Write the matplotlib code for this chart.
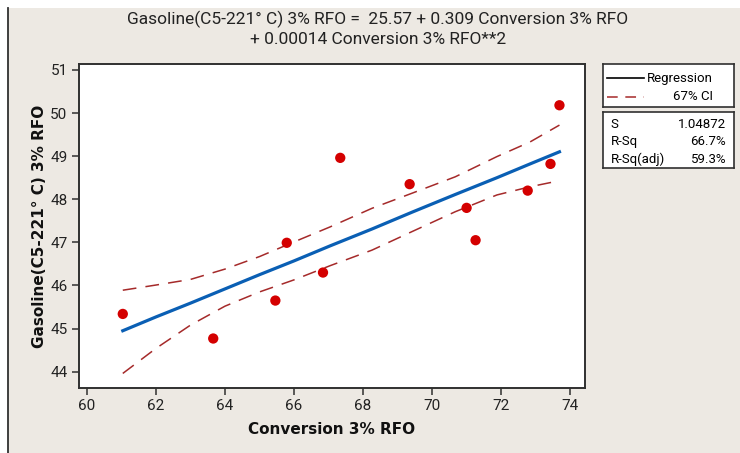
import numpy as np
import matplotlib
matplotlib.use("Agg")
import matplotlib.pyplot as plt
from matplotlib.patches import Rectangle
from matplotlib.lines import Line2D

conversion = [61.04, 63.66, 65.46, 65.79, 66.84, 67.34, 69.35, 71.00, 71.26, 72.77, 73.43, 73.69]
gasoline = [45.34, 44.77, 45.65, 46.99, 46.30, 48.96, 48.35, 47.80, 47.05, 48.20, 48.82, 50.18]

# fitted curve and 67% CI band, sampled along x
fit_x = [61.04, 62.0, 63.0, 64.0, 65.0, 66.0, 67.05, 68.26, 69.42, 70.67, 71.88, 72.84, 73.69]
fit_y = [44.95, 45.27, 45.59, 45.92, 46.25, 46.57, 46.92, 47.31, 47.70, 48.11, 48.50, 48.82, 49.10]
ci_upper = [45.89, 46.01, 46.14, 46.38, 46.67, 47.01, 47.36, 47.79, 48.14, 48.52, 48.99, 49.33, 49.72]
ci_lower = [43.96, 44.54, 45.08, 45.52, 45.85, 46.13, 46.46, 46.82, 47.25, 47.71, 48.10, 48.29, 48.43]

x_ticks = [60, 62, 64, 66, 68, 70, 72, 74]
y_ticks = [44, 45, 46, 47, 48, 49, 50, 51]

stats_names = ["S", "R-Sq", "R-Sq(adj)"]
stats_vals = ["1.04872", "66.7%", "59.3%"]

title = ("Gasoline(C5-221\u00b0 C) 3% RFO =  25.57 + 0.309 Conversion 3% RFO\n"
         "+ 0.00014 Conversion 3% RFO**2")

narrow = ["Roboto", "DejaVu Sans"]

bg = "#ede9e3"
red = "#d40000"
blue = "#0a5fb4"
dark_red = "#a52a2a"
frame = "#303030"

fig = plt.figure(figsize=(7.4, 4.53), dpi=100)
fig.patch.set_facecolor("white")
fig.patches.append(Rectangle((8 / 740, 0), 1, 1 - 8 / 453, transform=fig.transFigure,
                             facecolor=bg, edgecolor="none", zorder=-10))
fig.lines.append(Line2D([7.5 / 740, 7.5 / 740], [0, 1 - 8 / 453], transform=fig.transFigure,
                        color=frame, lw=1.3))

ax = fig.add_axes([78.6 / 740, 1 - 388.3 / 453, (585 - 78.6) / 740, (388.3 - 64.3) / 453])
ax.set_facecolor("white")

ax.plot(fit_x, fit_y, color=blue, lw=2.3, zorder=3)
ax.plot(fit_x, ci_upper, color=dark_red, lw=1.1, dashes=(9, 6), zorder=2)
ax.plot(fit_x, ci_lower, color=dark_red, lw=1.1, dashes=(9, 6), zorder=2)
ax.scatter(conversion, gasoline, s=55, color=red, edgecolors="none", zorder=4)

ax.set_xlim(59.76, 74.43)
ax.set_ylim(43.615, 51.13)
ax.set_xticks(x_ticks)
ax.set_yticks(y_ticks)
ax.tick_params(direction="out", length=5, width=1.1, color=frame, labelsize=11,
               labelcolor="#222222", pad=3)
for lab in ax.get_xticklabels() + ax.get_yticklabels():
    lab.set_family(narrow)
for sp in ax.spines.values():
    sp.set_color(frame)
    sp.set_linewidth(1.4)

ax.set_xlabel("Conversion 3% RFO", fontsize=11, fontweight="bold", color="#111111", labelpad=6)
ax.set_ylabel("Gasoline(C5-221\u00b0 C) 3% RFO", fontsize=11, fontweight="bold",
              color="#111111", labelpad=2)

fig.text(378 / 740, 1 - 29 / 453, title, ha="center", va="center", fontsize=12.5,
         family=narrow, color="#222222", linespacing=1.3)

# legend box
lg = fig.add_axes([603 / 740, 1 - 107 / 453, 131 / 740, 43 / 453])
lg.set_xlim(0, 1)
lg.set_ylim(0, 1)
lg.set_xticks([])
lg.set_yticks([])
lg.set_facecolor("white")
for sp in lg.spines.values():
    sp.set_color(frame)
    sp.set_linewidth(1.2)
lg.plot([0.03, 0.31], [0.67, 0.67], color="black", lw=1.2)
lg.plot([0.03, 0.31], [0.24, 0.24], color=dark_red, lw=1.1, dashes=(7, 5))
lg.text(0.84, 0.67, "Regression", ha="right", va="center", fontsize=9.5, family=narrow)
lg.text(0.84, 0.24, "67% CI", ha="right", va="center", fontsize=9.5, family=narrow)

# summary stats box
sb = fig.add_axes([603 / 740, 1 - 168 / 453, 131 / 740, 56 / 453])
sb.set_xlim(0, 1)
sb.set_ylim(0, 1)
sb.set_xticks([])
sb.set_yticks([])
sb.set_facecolor("white")
for sp in sb.spines.values():
    sp.set_color(frame)
    sp.set_linewidth(1.2)
for i, (nm, val) in enumerate(zip(stats_names, stats_vals)):
    yy = 0.78 - i * 0.31
    sb.text(0.06, yy, nm, ha="left", va="center", fontsize=9.5, family=narrow)
    sb.text(0.94, yy, val, ha="right", va="center", fontsize=9.5, family=narrow)

fig.savefig("out.png", dpi=100, facecolor=fig.get_facecolor())
